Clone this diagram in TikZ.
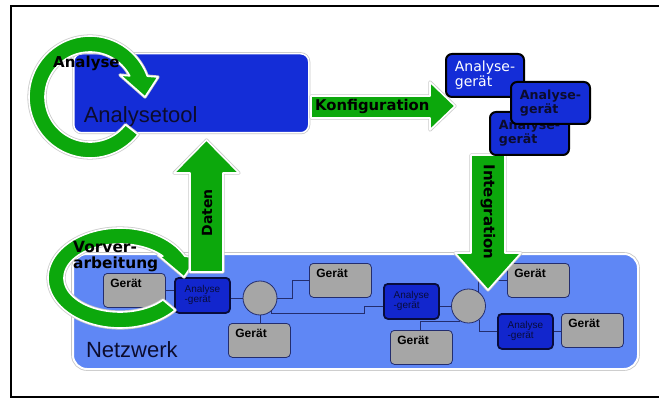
\documentclass[tikz,border=0pt]{standalone}
\usepackage{fontspec}
\setmainfont{Liberation Sans}
\newfontfamily\dvs{DejaVu Sans}
\usetikzlibrary{calc}

\definecolor{agreen}{RGB}{12,168,12}
\definecolor{toolblue}{RGB}{20,45,215}
\definecolor{netblue}{RGB}{95,135,245}
\definecolor{devgray}{RGB}{166,166,166}
\definecolor{navy}{RGB}{35,45,110}
\definecolor{darknavy}{RGB}{8,12,60}
\definecolor{ablue}{RGB}{18,38,205}
\definecolor{txtnavy}{RGB}{12,12,45}

\begin{document}
\begin{tikzpicture}[x=1pt,y=-1pt,
  greenarrow/.style={fill=agreen, draw=white, line width=1.6pt, line join=round,
    preaction={draw=black!20, line width=3.2pt, line join=round}},
  toolbox/.style={rectangle, rounded corners=8pt, fill=toolblue, draw=white, line width=1.5pt,
    preaction={draw=black!22, line width=3pt},
    anchor=north west, inner ysep=0pt, inner xsep=10pt, text height=69pt, text depth=10pt,
    text width=215pt, align=left, font=\fontsize{22}{26}\selectfont, text=txtnavy},
  netbox/.style={rectangle, rounded corners=14pt, fill=netblue, draw=white, line width=2pt,
    preaction={draw=black!22, line width=3.6pt},
    anchor=north west, inner ysep=0pt, inner xsep=13pt, text height=103pt, text depth=12pt,
    text width=539pt, align=left, font=\fontsize{22}{26}\selectfont, text=txtnavy},
  dev/.style={rectangle, rounded corners=4pt, fill=devgray, draw=navy, line width=0.8pt,
    anchor=north west, inner xsep=7pt, inner ysep=0pt, text height=14pt, text depth=20pt,
    text width=48pt, align=left, font=\bfseries\fontsize{12}{14}\selectfont, text=black},
  aset/.style={rectangle, rounded corners=4pt, fill=ablue, draw=darknavy, line width=1.8pt,
    minimum width=55pt, minimum height=35pt, anchor=north west, inner sep=0pt, align=left,
    font=\fontsize{10}{10}\selectfont, text=darknavy},
  tbox/.style={rectangle, rounded corners=6pt, fill=toolblue, draw=black, line width=2pt,
    anchor=north west, inner sep=0pt, align=left, minimum height=43pt, minimum width=79pt},
  circ/.style={circle, fill=devgray, draw=navy, line width=0.8pt, minimum size=34pt, inner sep=0pt},
  wire/.style={draw=navy, line width=0.9pt},
  lbl/.style={font=\dvs\bfseries\fontsize{15}{17}\selectfont, text=black, inner sep=0pt}
]
\useasboundingbox (0,0) rectangle (659,401);
\fill[white] (0,0) rectangle (659,401);

% frame
\draw[line width=1.2pt] (659,6) -- (11,6) -- (11,397) -- (659,397);

% Analysetool box
\node[toolbox] (tool) at (73,53) {Analysetool};

% Konfiguration arrow
\path[greenarrow] (311,96) -- (430,96) -- (430,82) -- (455,106) -- (430,130) -- (430,118) -- (311,118) -- cycle;

% Analyse circular arrow
\path[greenarrow] plot[domain=20:322, samples=90] ({90+61*cos(\x)},{97-61*sin(\x)})
  -- plot[domain=-322:-28, samples=90] ({90+45*cos(-\x)},{97-45*sin(-\x)})
  -- (120,75) -- (145,97) -- (158,77) -- cycle;

% Netzwerk box
\node[netbox] (net) at (72,253) {Netzwerk};

% devices
\node[dev] (g1) at (103,273) {Gerät};
\node[dev] (g2) at (309,263) {Gerät};
\node[dev] (g3) at (228,323) {Gerät};
\node[dev] (g4) at (390,330) {Gerät};
\node[dev] (g5) at (507,263) {Gerät};
\node[dev] (g6) at (561,313) {Gerät};
\node[aset] (a1) at (174,277) {Analyse\\-gerät};
\node[aset] (a2) at (383,283) {Analyse\\-gerät};
\node[aset] (a3) at (497,313) {Analyse\\-gerät};
\node[circ] (c1) at (260,298) {};
\node[circ] (c2) at (468.5,306) {};

\coordinate (k1) at (364,313);
\coordinate (k2) at ($(g4.north west)+(30,0)$);

% connectors
\draw[wire] (g1.east) -- (g1.east -| a1.west);
\draw[wire] (a1.east |- c1.west) -- (c1.west);
\draw[wire] (c1.east) -- ++(15,0) |- (g2.west);
\draw[wire] (c1.south) -- (c1.south |- g3.north);
\draw[wire] (c1.-48) |- (k1) |- (a2.west |- c2.west);
\draw[wire] (a2.east |- c2.west) -- (c2.west);
\draw[wire] (c2.-120) -| (k2);
\draw[wire] (c2.54) |- (g5.west);
\draw[wire] (c2.-53) |- (a3.west);
\draw[wire] (a3.east) -- (a3.east -| g6.west);

% Vorverarbeitung circular arrow
\path[greenarrow] plot[domain=26:320, samples=90] ({120+72*cos(\x)},{278-50*sin(\x)})
  -- plot[domain=-320:-40, samples=90] ({120+56*cos(-\x)},{278-34*sin(-\x)})
  -- (158,255) -- (184,277) -- (197,258) -- cycle;

% Daten arrow
\path[greenarrow] (190,272) -- (190,173) -- (174,173) -- (206.5,140) -- (239,173) -- (223,173) -- (223,272) -- cycle;

% Integration arrow
\path[greenarrow] (471,155) -- (505,155) -- (505,253) -- (521,253) -- (488,290) -- (455,253) -- (471,253) -- cycle;

% top-right analysis devices
\node[tbox, minimum width=78pt, font=\dvs\fontsize{14}{15}\selectfont, text=white] (b1) at (445,53) {Analyse-\\gerät};
\node[tbox, font=\dvs\bfseries\fontsize{12.6}{14}\selectfont, text=txtnavy] (b3) at (489,111) {Analyse-\\gerät};
\node[tbox, minimum height=42pt, font=\dvs\bfseries\fontsize{12.6}{14}\selectfont, text=txtnavy] (b2) at (510,81) {Analyse-\\gerät};

% labels
\node[lbl, anchor=base west] (lanalyse) at (53,68) {Analyse};
\node[lbl, font=\dvs\bfseries\fontsize{14.8}{17}\selectfont, anchor=base west] (lkonf) at (315,111) {Konfiguration};
\node[lbl, font=\dvs\bfseries\fontsize{14}{17}\selectfont, rotate=90] (ldaten) at (207,213) {Daten};
\node[lbl, rotate=-90] (linteg) at (488,212) {Integration};
\node[lbl, font=\dvs\bfseries\fontsize{15.4}{17}\selectfont, anchor=base west] (lvor1) at (73,252) {Vorver-};
\node[lbl, font=\dvs\bfseries\fontsize{15.4}{17}\selectfont, anchor=base west] (lvor2) at (73,268) {arbeitung};
\end{tikzpicture}
\end{document}
